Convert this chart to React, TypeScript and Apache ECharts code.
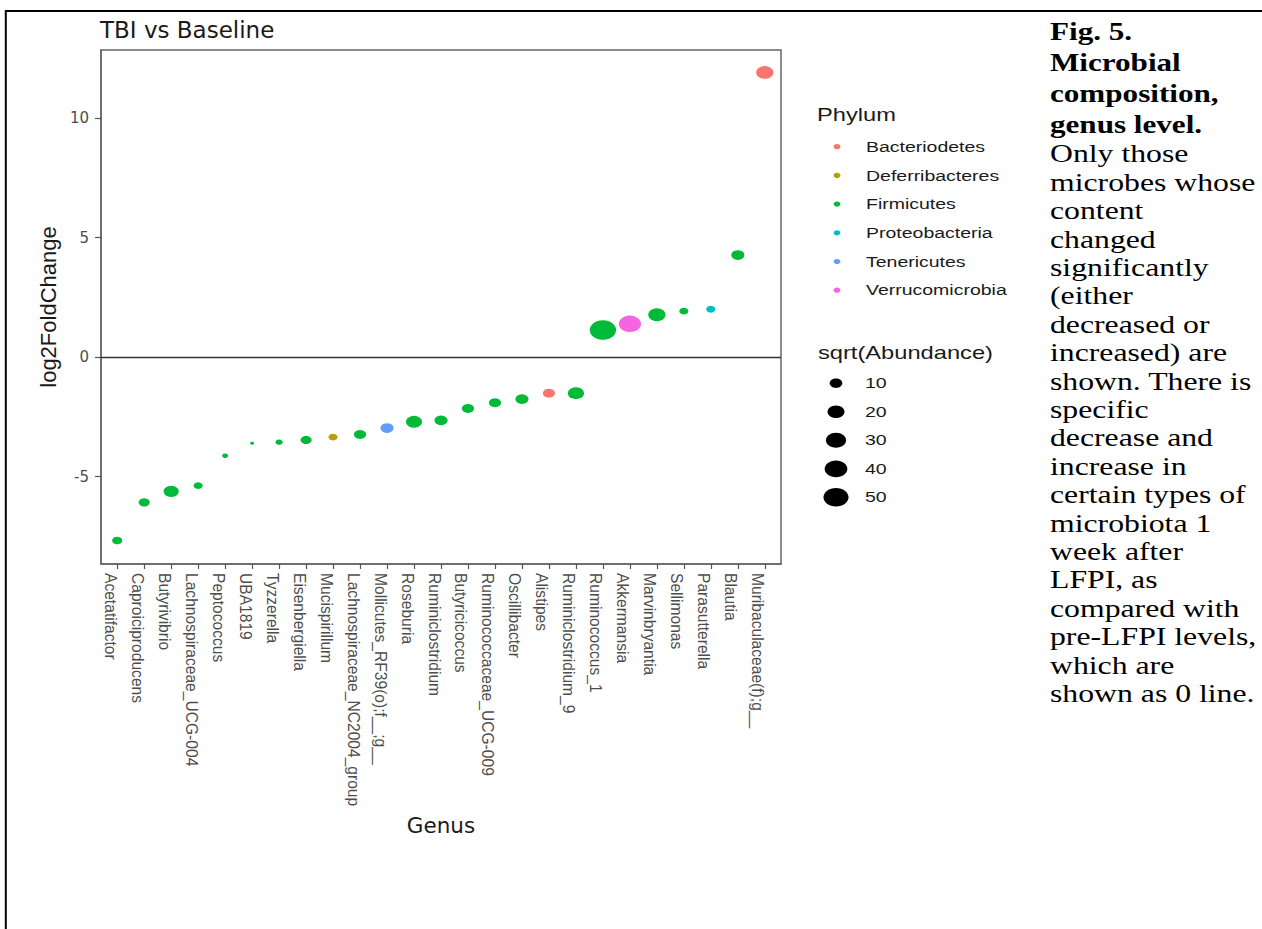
import React, { useEffect, useRef } from "react";
import * as echarts from "echarts";

const genera = [
  "Acetatifactor",
  "Caproiciproducens",
  "Butyrivibrio",
  "Lachnospiraceae_UCG-004",
  "Peptococcus",
  "UBA1819",
  "Tyzzerella",
  "Eisenbergiella",
  "Mucispirillum",
  "Lachnospiraceae_NC2004_group",
  "Mollicutes_RF39(o);f__;g__",
  "Roseburia",
  "Ruminiclostridium",
  "Butyricicoccus",
  "Ruminococcaceae_UCG-009",
  "Oscillibacter",
  "Alistipes",
  "Ruminiclostridium_9",
  "Ruminococcus_1",
  "Akkermansia",
  "Marvinbryantia",
  "Sellimonas",
  "Parasutterella",
  "Blautia",
  "Muribaculaceae(f);g__",
];

const log2FoldChange = [
  -7.68, -6.08, -5.62, -5.38, -4.13, -3.61, -3.56, -3.47, -3.35, -3.24, -2.97,
  -2.71, -2.65, -2.15, -1.91, -1.76, -1.51, -1.51, 1.13, 1.39, 1.77, 1.92, 2.0,
  4.27, 11.91,
];

const genusPhylum = [
  "Firmicutes",
  "Firmicutes",
  "Firmicutes",
  "Firmicutes",
  "Firmicutes",
  "Firmicutes",
  "Firmicutes",
  "Firmicutes",
  "Deferribacteres",
  "Firmicutes",
  "Tenericutes",
  "Firmicutes",
  "Firmicutes",
  "Firmicutes",
  "Firmicutes",
  "Firmicutes",
  "Bacteriodetes",
  "Firmicutes",
  "Firmicutes",
  "Verrucomicrobia",
  "Firmicutes",
  "Firmicutes",
  "Proteobacteria",
  "Firmicutes",
  "Bacteriodetes",
];

const sqrtAbundance = [
  6.0, 7.5, 15.5, 4.8, 2.4, 2.0, 3.0, 7.5, 4.8, 9.1, 11, 18, 11, 9, 9, 11, 9, 18,
  56, 38, 21, 4.8, 4.8, 11, 21,
];

const phyla = [
  "Bacteriodetes",
  "Deferribacteres",
  "Firmicutes",
  "Proteobacteria",
  "Tenericutes",
  "Verrucomicrobia",
];
const phylumColors = ["#F8766D", "#B79F00", "#00BA38", "#00BFC4", "#619CFF", "#F564E3"];

const sizeBreaks = [10, 20, 30, 40, 50];
const yTicks = [-5, 0, 5, 10];

const captionBold = ["Fig. 5.", "Microbial", "composition,", "genus level."];
const captionText = [
  "Only those",
  "microbes whose",
  "content",
  "changed",
  "significantly",
  "(either",
  "decreased or",
  "increased) are",
  "shown. There is",
  "specific",
  "decrease and",
  "increase in",
  "certain types of",
  "microbiota 1",
  "week after",
  "LFPI, as",
  "compared with",
  "pre-LFPI levels,",
  "which are",
  "shown as 0 line.",
];

const SANS = "'Liberation Sans', Arial, Helvetica, sans-serif";
const WIDE = "'DejaVu Sans', 'Liberation Sans', sans-serif";
const SERIF = "'Liberation Serif', 'Times New Roman', serif";

// ggplot-like area size scale (height in px), points are drawn slightly wide
const V_MIN = 2;
const V_MAX = 56;
const D_LO = 3;
const D_HI = 19.5;
const ASPECT = 1.35;
function diam(v: number) {
  const t = Math.max(0, Math.min(1, (v - V_MIN) / (V_MAX - V_MIN)));
  return D_LO + (D_HI - D_LO) * Math.sqrt(t);
}

export default function App() {
  const ref = useRef<HTMLDivElement>(null);

  useEffect(() => {
    const chart = echarts.init(ref.current!, null, { renderer: "svg" });
    const idx = genera.map((_, i) => i);

    const series: any[] = phyla.map((p, pi) => ({
      type: "scatter",
      name: p,
      data: idx
        .filter((i) => genusPhylum[i] === p)
        .map((i) => [i, log2FoldChange[i], sqrtAbundance[i]]),
      symbol: "circle",
      symbolSize: (val: number[]) => {
        const d = diam(val[2]);
        return [d * ASPECT, d];
      },
      itemStyle: { color: phylumColors[pi], opacity: 1 },
      z: 3,
    }));
    series.push({
      type: "line",
      name: "zero",
      data: [],
      silent: true,
      markLine: {
        silent: true,
        symbol: ["none", "none"],
        label: { show: false },
        lineStyle: { color: "#333333", width: 1.3, type: "solid" },
        data: [{ yAxis: 0 }],
      },
      z: 2,
    });

    const graphic: any[] = [];
    // page border
    graphic.push({
      type: "line",
      shape: { x1: 5, y1: 11, x2: 1262, y2: 11 },
      style: { stroke: "#000", lineWidth: 2 },
    });
    graphic.push({
      type: "line",
      shape: { x1: 5.8, y1: 10, x2: 5.8, y2: 929 },
      style: { stroke: "#000", lineWidth: 2 },
    });

    // Phylum legend
    graphic.push({
      type: "text",
      x: 817,
      y: 115,
      scaleX: 1.28,
      style: {
        text: "Phylum",
        fontFamily: SANS,
        fontSize: 18.5,
        fill: "#1a1a1a",
        verticalAlign: "middle",
        align: "left",
      },
    });
    phyla.forEach((p, i) => {
      const cy = 146.7 + i * 28.7;
      graphic.push({
        type: "ellipse",
        shape: { cx: 837, cy, rx: 3.4, ry: 2.6 },
        style: { fill: phylumColors[i] },
      });
      graphic.push({
        type: "text",
        x: 866,
        y: cy,
        scaleX: 1.3,
        style: {
          text: p,
          fontFamily: SANS,
          fontSize: 15,
          fill: "#1a1a1a",
          verticalAlign: "middle",
          align: "left",
        },
      });
    });

    // Size legend
    graphic.push({
      type: "text",
      x: 818,
      y: 353,
      scaleX: 1.28,
      style: {
        text: "sqrt(Abundance)",
        fontFamily: SANS,
        fontSize: 18.5,
        fill: "#1a1a1a",
        verticalAlign: "middle",
        align: "left",
      },
    });
    sizeBreaks.forEach((b, i) => {
      const cy = 383.3 + i * 28.5;
      const d = diam(b);
      graphic.push({
        type: "ellipse",
        shape: { cx: 836, cy, rx: (d * ASPECT) / 2, ry: d / 2 },
        style: { fill: "#000" },
      });
      graphic.push({
        type: "text",
        x: 865,
        y: cy,
        scaleX: 1.3,
        style: {
          text: String(b),
          fontFamily: SANS,
          fontSize: 15,
          fill: "#1a1a1a",
          verticalAlign: "middle",
          align: "left",
        },
      });
    });

    // Caption
    captionBold.forEach((t, i) => {
      graphic.push({
        type: "text",
        x: 1050,
        y: 32 + i * 31,
        scaleX: 1.27,
        style: {
          text: t,
          fontFamily: SERIF,
          fontWeight: "bold",
          fontSize: 24.5,
          fill: "#000",
          verticalAlign: "middle",
          align: "left",
        },
      });
    });
    captionText.forEach((t, i) => {
      graphic.push({
        type: "text",
        x: 1050,
        y: 154 + i * 28.4,
        scaleX: 1.27,
        style: {
          text: t,
          fontFamily: SERIF,
          fontSize: 25,
          fill: "#000",
          verticalAlign: "middle",
          align: "left",
        },
      });
    });

    const option: any = {
      animation: false,
      backgroundColor: "#ffffff",
      title: {
        text: "TBI vs Baseline",
        left: 100,
        top: 18,
        padding: 0,
        textStyle: {
          fontFamily: WIDE,
          fontSize: 23,
          fontWeight: "normal",
          color: "#1a1a1a",
        },
      },
      grid: {
        left: 101,
        top: 50,
        width: 680,
        height: 514,
        show: true,
        borderColor: "#666666",
        borderWidth: 1.5,
        backgroundColor: "transparent",
      },
      xAxis: {
        type: "value",
        min: -0.6,
        max: 24.6,
        axisLine: { show: true, onZero: false, lineStyle: { color: "#666666", width: 1.5 } },
        splitLine: { show: false },
        axisTick: {
          show: true,
          customValues: idx,
          length: 5,
          lineStyle: { color: "#555555", width: 1.2 },
        },
        axisLabel: {
          show: true,
          customValues: idx,
          rotate: -90,
          margin: 9,
          verticalAlign: "top",
          lineHeight: 14,
          fontFamily: SANS,
          fontSize: 15.6,
          color: "#4d4d4d",
          formatter: (v: number) => genera[Math.round(v)] ?? "",
        },
        name: "Genus",
        nameLocation: "middle",
        nameGap: 246,
        nameTextStyle: { fontFamily: WIDE, fontSize: 21.5, color: "#1a1a1a" },
      },
      yAxis: {
        type: "value",
        min: -8.66,
        max: 12.85,
        axisLine: { show: true, onZero: false, lineStyle: { color: "#666666", width: 1.5 } },
        splitLine: { show: false },
        axisTick: {
          show: true,
          customValues: yTicks,
          length: 6,
          lineStyle: { color: "#555555", width: 1.2 },
        },
        axisLabel: {
          show: true,
          customValues: yTicks,
          margin: 12,
          fontFamily: WIDE,
          fontSize: 15,
          color: "#4d4d4d",
        },
        name: "log2FoldChange",
        nameLocation: "middle",
        nameGap: 42,
        nameTextStyle: { fontFamily: SANS, fontSize: 22, color: "#1a1a1a" },
      },
      series,
      graphic,
    };

    chart.setOption(option);
    return () => chart.dispose();
  }, []);

  return (
    <div
      ref={ref}
      style={{
        position: "absolute",
        left: 0,
        top: 0,
        width: 1262,
        height: 929,
        background: "#fff",
      }}
    />
  );
}
